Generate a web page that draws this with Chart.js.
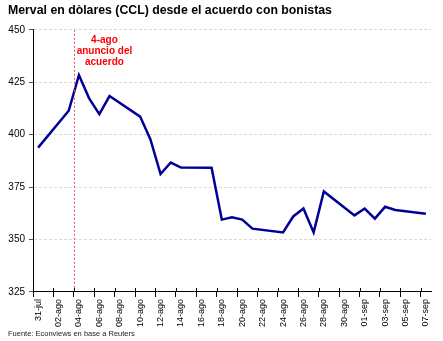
<!DOCTYPE html>
<html>
<head>
<meta charset="utf-8">
<script src="https://cdn.jsdelivr.net/npm/chart.js@4.4.1/dist/chart.umd.min.js"></script>
<style>
  html, body { margin: 0; padding: 0; background: #fff; }
  #wrap { width: 443px; height: 341px; }
</style>
</head>
<body>
<div id="wrap"><canvas id="myChart" width="443" height="341"></canvas></div>
<script>
// one entry per calendar day, weekends/holidays are null
const dayLabels = [
  "31-jul", "01-ago", "02-ago", "03-ago", "04-ago", "05-ago", "06-ago", "07-ago",
  "08-ago", "09-ago", "10-ago", "11-ago", "12-ago", "13-ago", "14-ago", "15-ago",
  "16-ago", "17-ago", "18-ago", "19-ago", "20-ago", "21-ago", "22-ago", "23-ago",
  "24-ago", "25-ago", "26-ago", "27-ago", "28-ago", "29-ago", "30-ago", "31-ago",
  "01-sep", "02-sep", "03-sep", "04-sep", "05-sep", "06-sep", "07-sep"
];
const mervalUsd = [
  393.8, null, null, 411.4, 428.4, 417.3, 409.8, 418.4,
  null, null, 408.6, 397.8, 381.2, 386.7, 384.3, null,
  null, 384.2, 359.5, 360.6, 359.5, 355.2, null, null,
  353.4, 361.0, 364.8, 353.4, 372.9, null, null, 361.5,
  364.8, 360.0, 365.6, 364.1, null, null, 362.3
];
const yTicks = [325, 350, 375, 400, 425, 450];
const markerIndex = 4; // 04-ago
const markerText = ["4-ago", "anuncio del", "acuerdo"];

// red dotted line + note for the announcement day
const markerPlugin = {
  id: "marker",
  afterDraw(chart) {
    const { ctx, chartArea, scales } = chart;
    const x = Math.round((scales.x.getPixelForValue(markerIndex - 1) + scales.x.getPixelForValue(markerIndex)) / 2);
    ctx.save();
    ctx.fillStyle = "#ff4d4d";
    for (let y = chartArea.top; y < chartArea.bottom; y += 4) {
      ctx.fillRect(x, y, 1, 2);
    }

    const tx = (scales.x.getPixelForValue(6) + scales.x.getPixelForValue(7)) / 2;
    ctx.fillStyle = "#ff0000";
    ctx.font = "bold 10px 'Liberation Sans', Arial, sans-serif";
    ctx.textAlign = "center";
    ctx.textBaseline = "middle";
    markerText.forEach((t, i) => ctx.fillText(t, tx, chartArea.top + 10 + i * 11));

    // tick marks crossing the x axis
    ctx.strokeStyle = "#000";
    ctx.lineWidth = 1;
    ctx.beginPath();
    for (let i = 2; i < dayLabels.length; i += 2) {
      const px = Math.round((scales.x.getPixelForValue(i - 1) + scales.x.getPixelForValue(i)) / 2) + 0.5;
      ctx.moveTo(px, chartArea.bottom - 4);
      ctx.lineTo(px, chartArea.bottom);
    }
    ctx.stroke();
    ctx.restore();
  }
};

const ctx = document.getElementById("myChart").getContext("2d");
const myChart = new Chart(ctx, {
  type: "line",
  data: {
    labels: dayLabels,
    datasets: [{
      label: "Merval USD",
      data: mervalUsd,
      borderColor: "#000099",
      borderWidth: 2.5,
      pointRadius: 0,
      tension: 0,
      spanGaps: true
    }]
  },
  options: {
    responsive: false,
    animation: false,
    layout: { padding: { left: 8, right: 12, top: 0, bottom: 0 } },
    plugins: {
      legend: { display: false },
      tooltip: { enabled: false },
      title: {
        display: true,
        text: "Merval en dòlares (CCL) desde el acuerdo con bonistas",
        align: "start",
        color: "#000",
        font: { family: "'Liberation Sans', Arial, sans-serif", size: 12.3, weight: "bold" },
        padding: { top: 3, bottom: 12 }
      },
      subtitle: {
        display: true,
        position: "bottom",
        text: "Fuente: Econviews en base a Reuters",
        align: "start",
        color: "#222",
        font: { family: "'Liberation Sans', Arial, sans-serif", size: 7.5 },
        padding: { top: 0, bottom: 3 }
      }
    },
    scales: {
      x: {
        offset: true,
        grid: {
          offset: true,
          drawOnChartArea: false,
          tickLength: 5,
          color: c => (c.index % 2 === 0 ? "#000" : "rgba(0,0,0,0)")
        },
        border: { color: "#000", width: 1 },
        ticks: {
          autoSkip: false,
          minRotation: 90,
          maxRotation: 90,
          padding: 2,
          color: "#000",
          font: { family: "'Liberation Sans', Arial, sans-serif", size: 9 },
          callback: (v, i) => (i % 2 === 0 ? dayLabels[i] : "")
        }
      },
      y: {
        min: yTicks[0],
        max: yTicks[yTicks.length - 1],
        afterBuildTicks: axis => { axis.ticks = yTicks.map(v => ({ value: v })); },
        afterFit: axis => { axis.width = 25; },
        grid: {
          color: c => (c.tick && c.tick.value === yTicks[0] ? "rgba(0,0,0,0)" : "#d9d9d9"),
          tickColor: "#555",
          tickLength: 4,
          tickBorderDash: []
        },
        border: { color: "#000", width: 1, dash: [3, 2] },
        ticks: {
          padding: 4,
          color: "#000",
          font: { family: "'Liberation Sans', Arial, sans-serif", size: 10 }
        }
      }
    }
  },
  plugins: [markerPlugin]
});
</script>
</body>
</html>
